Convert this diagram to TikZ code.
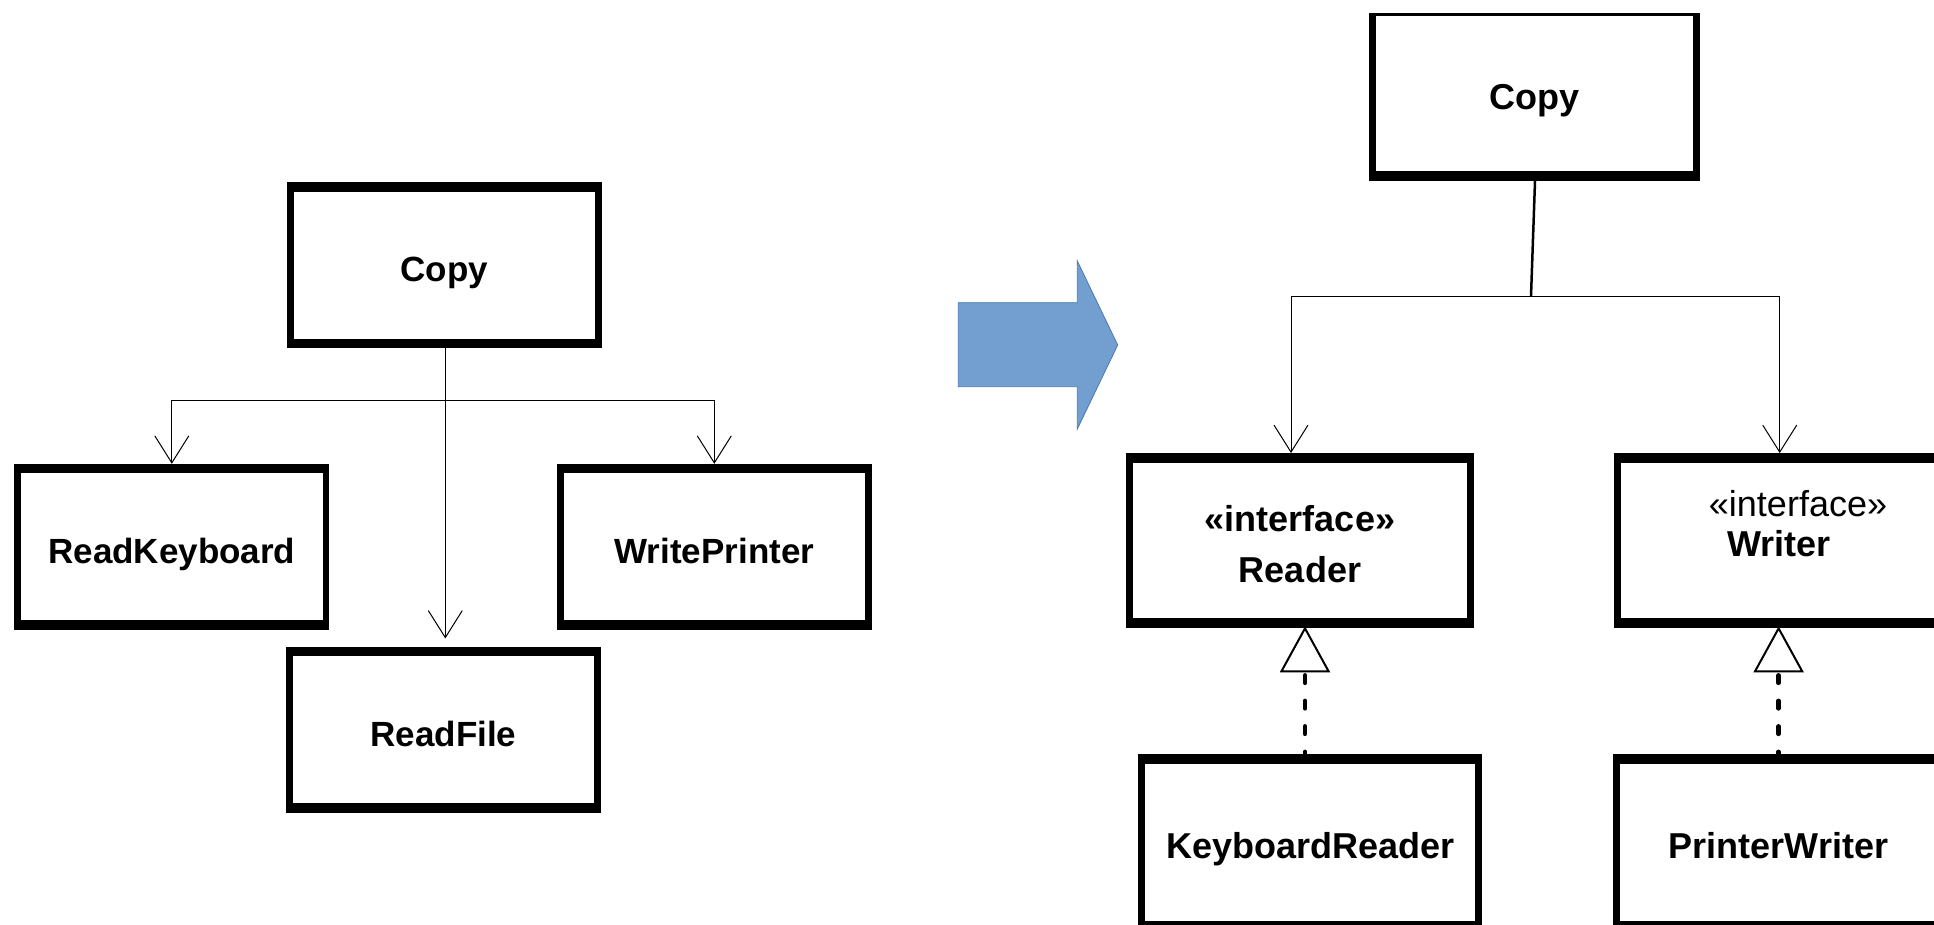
\documentclass[tikz,border=0pt]{standalone}
\usepackage{fontspec}
\setmainfont{Liberation Sans}
\usetikzlibrary{arrows.meta}
\definecolor{arrowblue}{RGB}{114,159,207}
\definecolor{arrowedge}{RGB}{74,120,176}
\newcommand\clsfont{\fontsize{35pt}{42pt}\selectfont}
\newcommand\clsfontR{\fontsize{36pt}{43pt}\selectfont}

\begin{document}
\begin{tikzpicture}[x=1pt, y=-1pt,
  classbox/.style={draw, line width=6.8pt, rectangle, inner sep=0pt,
    font=\clsfont\bfseries, text height=39pt, text depth=6pt},
  leftbox/.style={classbox, minimum width=308.2pt, minimum height=159.2pt},
  rightbox/.style={classbox, font=\clsfontR\bfseries},
  stereo/.style={inner sep=0pt, anchor=base, font=\clsfontR},
  uses/.style={line width=1pt, -{Straight Barb[length=27pt, width=34pt, line width=1pt]}},
  realizes/.style={line width=4.5pt, line cap=round, dash pattern=on 7.5pt off 18pt, dash phase=5pt,
    -{Triangle[open, length=46pt, width=50pt, line width=2pt]}},
]
\useasboundingbox (0,0) rectangle (1934,925);
\clip (0,0) rectangle (1934,925);

% ---- before: Copy depends directly on the concrete classes
\node[leftbox] (copyA) at (444.3,265.4) {Copy};
\node[leftbox] (rk)    at (171.8,546.8) {ReadKeyboard};
\node[leftbox] (wp)    at (714.3,546.8) {WritePrinter};
\node[leftbox] (rf)    at (443.5,729.5) {ReadFile};

\coordinate (j1) at (445.3,400.7);
\draw[line width=1pt] (copyA.south -| j1) -- (j1);
\draw[uses] (j1) -| (rk.north);
\draw[uses] (j1) -| (wp.north);
\draw[uses, shorten >=8pt] (j1) -- (rf.north -| j1);

% ---- transition arrow
\filldraw[fill=arrowblue, draw=arrowedge, line width=0.8pt]
  (958.3,302.7) -- (1077.3,302.7) -- (1077.3,261) -- (1117.7,345)
  -- (1077.3,429) -- (1077.3,386.7) -- (958.3,386.7) -- cycle;

% ---- after: Copy depends on abstractions
\node[rightbox, line width=3.4pt, text depth=12.7pt, minimum width=326.9pt, minimum height=164.9pt]
  (copyB) at (1534.5,96.85) {Copy};
\node[rightbox, minimum width=341.2pt, minimum height=167.9pt] (reader) at (1300,540.4) {};
\node[rightbox, minimum width=361.2pt, minimum height=167.9pt] (writer) at (1798,540.4) {};
\node[rightbox, minimum width=336.8pt, minimum height=168.9pt] (kr) at (1310.1,842.2) {KeyboardReader};
\node[rightbox, minimum width=324.4pt, minimum height=168.9pt] (pw) at (1778.6,842.2) {PrinterWriter};

\node[stereo, font=\clsfontR\bfseries] (readerst) at (1300,531.7) {«interface»};
\node[stereo, font=\clsfontR\bfseries] (readernm) at (1300,582.7) {Reader};
\node[stereo] (writerst) at (1798,516.7) {«interface»};
\node[stereo, font=\clsfontR\bfseries] (writernm) at (1778.7,556.7) {Writer};

% heavier top and bottom edges of the class boxes
\foreach \n in {copyA,rk,wp,rf,reader,writer,kr,pw}{
  \fill (\n.north west) rectangle ([yshift=-9.5pt]\n.north east);
  \fill (\n.south west) rectangle ([yshift=9.5pt]\n.south east);
}
\fill (copyB.north west) rectangle ([xshift=6.7pt]copyB.south west);
\fill ([xshift=-6.7pt]copyB.north east) rectangle (copyB.south east);
\fill (copyB.south west) rectangle ([yshift=10pt]copyB.south east);

\coordinate (j2) at (1531,296);
\draw[line width=2.5pt] ([xshift=0.5pt]copyB.south) -- (j2);
\draw[uses] (j2) -| ([xshift=-9pt]reader.north);
\draw[uses] (j2) -| ([xshift=-18.3pt]writer.north);

\draw[realizes] ([xshift=-5.1pt]kr.north) -- ([xshift=5pt, yshift=1.5pt]reader.south);
\draw[realizes] (pw.north) -- ([xshift=-19.4pt, yshift=1.5pt]writer.south);
\end{tikzpicture}
\end{document}
